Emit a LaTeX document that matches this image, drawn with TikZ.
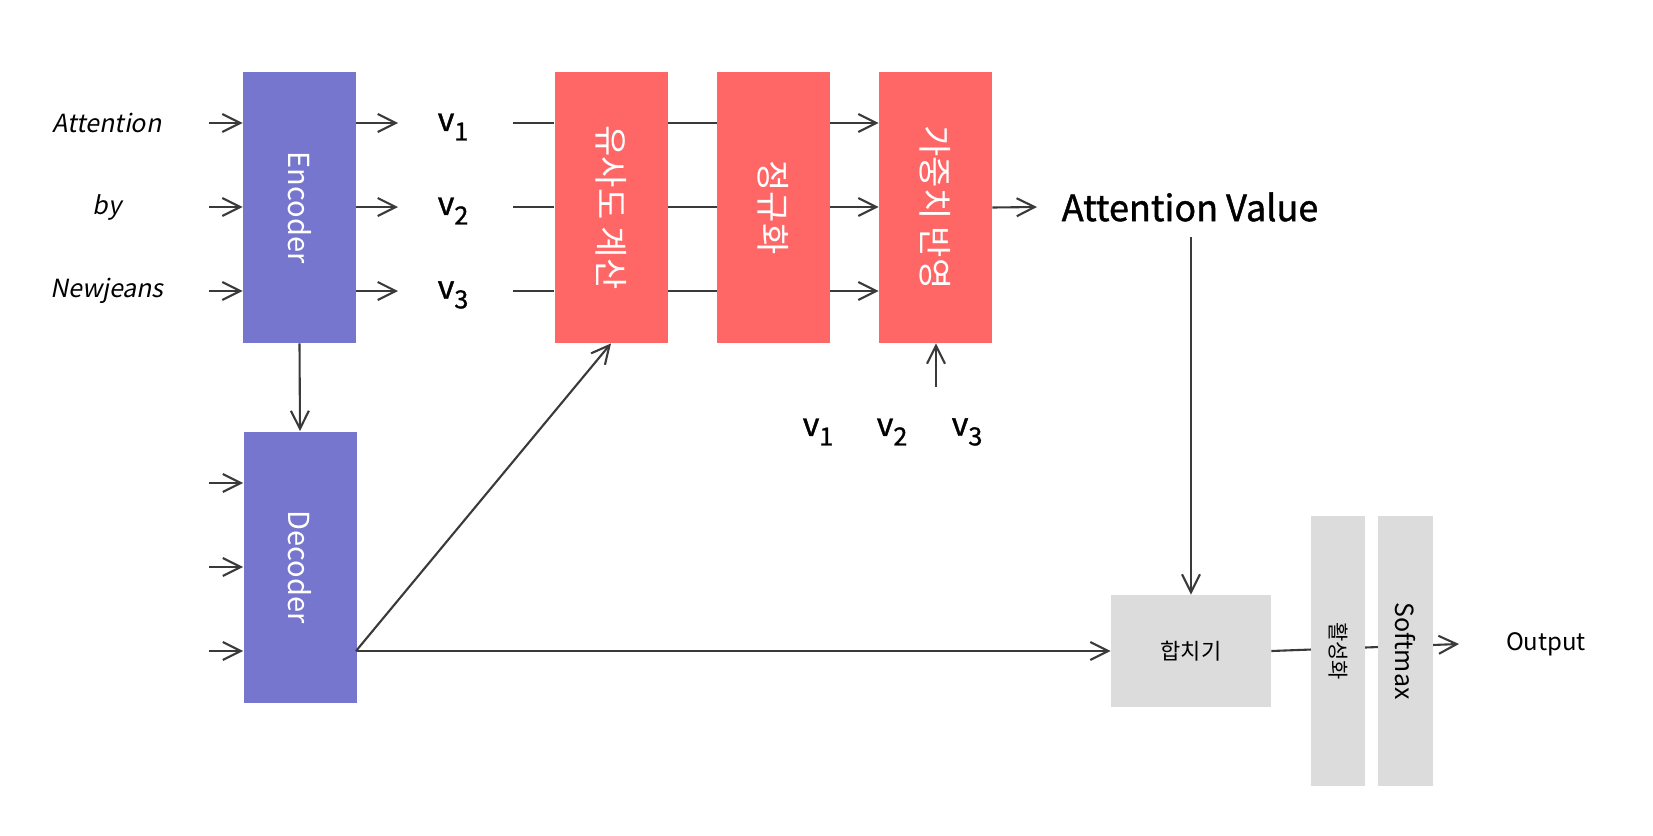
\documentclass[tikz,border=0pt]{standalone}
\usepackage{fontspec}
\usepackage{graphicx}
\setmainfont{Noto Sans CJK KR}
\newfontfamily\slfont{Noto Sans CJK KR}[FakeSlant=0.2]
\newfontfamily\mdfont{Noto Sans CJK KR}[FakeBold=1.2]
\usetikzlibrary{arrows.meta}
\pgfdeclarelayer{bg}
\pgfsetlayers{bg,main}
\definecolor{encc}{HTML}{7676CE}
\definecolor{redc}{HTML}{FF6666}
\definecolor{grayc}{HTML}{DCDCDC}
\definecolor{linec}{HTML}{3A3A3A}
\newcommand\vsub[1]{v\raisebox{-0.3em}{\fontsize{12.5}{12.5}\selectfont #1}}
\begin{document}
\begin{tikzpicture}[x=0.5pt,y=-0.5pt,
  conn/.style={draw=linec,line width=1.05pt},
  arr/.style={conn,-{Straight Barb[length=9pt,width=9pt]}},
  encbox/.style={fill=encc,minimum width=56.5pt,minimum height=135.5pt,inner sep=0pt,text=white,font=\fontsize{14.5}{16}\selectfont},
  redbox/.style={fill=redc,minimum width=56.5pt,minimum height=135.5pt,inner sep=0pt,text=white,font=\fontsize{17}{19}\selectfont},
  graybox/.style={fill=grayc,inner sep=0pt,text=black},
  inlabel/.style={inner sep=0pt,font=\slfont\fontsize{12.5}{14}\selectfont},
  vlabel/.style={inner sep=0pt,font=\mdfont\fontsize{16}{18}\selectfont},
  biglabel/.style={inner sep=0pt,font=\mdfont\fontsize{18}{21}\selectfont},
  smalllabel/.style={inner sep=0pt,font=\fontsize{12}{14}\selectfont}
]
\begin{pgfonlayer}{bg}
\fill[white] (0,0) rectangle (1653,835);
\end{pgfonlayer}
\useasboundingbox (0,0) rectangle (1653,835);

% boxes
\node[encbox] (enc) at (299.5,207.5) {\rotatebox{-90}{Encoder}};
\node[encbox] (dec) at (300,567) {\rotatebox{-90}{Decoder}};
\node[redbox] (sim) at (611,207.5) {\rotatebox{-90}{유사도 계산}};
\node[redbox] (norm) at (773.5,207.5) {\rotatebox{-90}{정규화}};
\node[redbox] (wgt) at (935.5,207.5) {\rotatebox{-90}{가중치 반영}};
\node[graybox,minimum width=80pt,minimum height=56pt,font=\fontsize{11}{13}\selectfont] (hap) at (1191,651) {합치기};
\node[graybox,minimum width=27pt,minimum height=135pt,font=\fontsize{10.5}{12}\selectfont] (act) at (1338,651) {\rotatebox{-90}{활성화}};
\node[graybox,minimum width=27.5pt,minimum height=135pt,font=\fontsize{12.5}{14}\selectfont] (soft) at (1405.5,651) {\rotatebox{-90}{Softmax}};

% input labels
\node[inlabel] (w1) at (107,123) {Attention};
\node[inlabel] (w2) at (107,207) {by};
\node[inlabel] (w3) at (107,291) {Newjeans};

% v labels
\node[vlabel] (v1) at (453,127) {\vsub{1}};
\node[vlabel] (v2) at (453,211) {\vsub{2}};
\node[vlabel] (v3) at (453,295) {\vsub{3}};
\node[vlabel] (b1) at (818,432) {\vsub{1}};
\node[vlabel] (b2) at (892,432) {\vsub{2}};
\node[vlabel] (b3) at (967,432) {\vsub{3}};

\node[biglabel] (av) at (1190,207) {Attention Value};
\node[smalllabel] (out) at (1546,644) {Output};

% coordinates
\coordinate (i1) at (209,123);
\coordinate (i2) at (209,207);
\coordinate (i3) at (209,291);
\coordinate (o1) at (398,123);
\coordinate (o2) at (398,207);
\coordinate (o3) at (398,291);
\coordinate (l1) at (513,123);
\coordinate (l2) at (513,207);
\coordinate (l3) at (513,291);
\coordinate (d1) at (209,483);
\coordinate (d2) at (209,567);
\coordinate (d3) at (209,651);
\coordinate (avin) at (1037,207);
\coordinate (avdown) at (1191,237);
\coordinate (up) at (936,387);
\coordinate (dout) at (356,651);
\coordinate (outarr) at (1459,644);

\foreach \k in {1,2,3} {
  \draw[arr] (i\k) -- (i\k -| enc.west);
  \draw[arr] (o\k -| enc.east) -- (o\k);
  \draw[conn] (l\k) -- (l\k -| sim.west);
  \draw[conn] (l\k -| sim.east) -- (l\k -| norm.west);
  \draw[arr] (l\k -| norm.east) -- (l\k -| wgt.west);
  \draw[arr] (d\k) -- (d\k -| dec.west);
}
\draw[arr] (wgt.east) -- (avin);
\draw[arr] (avdown) -- (hap.north);
\draw[arr] (up) -- (up |- wgt.south);
\draw[arr] (enc.south) -- (dec.north);
\draw[arr] (dout) -- (hap.west);
\draw[arr] (dout) -- (sim.south);
\begin{pgfonlayer}{bg}
\draw[arr] (hap.east) -- (outarr);
\end{pgfonlayer}
\end{tikzpicture}
\end{document}
